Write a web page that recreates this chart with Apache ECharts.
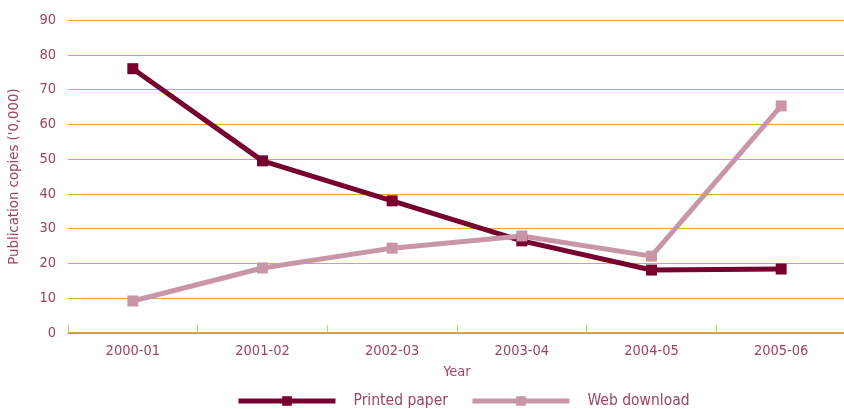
<!DOCTYPE html>
<html>
<head>
<meta charset="utf-8">
<script src="https://cdn.jsdelivr.net/npm/echarts@6/dist/echarts.min.js"></script>
<style>
  html, body { margin: 0; padding: 0; background: #fff; }
  #myCharts { width: 844px; height: 409px; }
</style>
</head>
<body>
<div id="myCharts"></div>
<script>
// data
const years = ["2000-01", "2001-02", "2002-03", "2003-04", "2004-05", "2005-06"];
const printedPaper = [76, 49.5, 38, 26.5, 18.1, 18.4];
const webDownload = [9.2, 18.7, 24.4, 27.9, 22.1, 65.3];

const textColor = "#9b4468";
const fontFamily = "'DejaVu Sans Condensed', 'DejaVu Sans', sans-serif";

const myCharts = echarts.init(document.getElementById("myCharts"));
const option = {
  animation: false,
  textStyle: { fontFamily: fontFamily },
  grid: {
    left: 68,
    right: -2,
    top: 20,
    bottom: 76,
    outerBoundsMode: "none",
  },
  legend: {
    top: 393,
    left: 236,
    padding: 0,
    itemWidth: 97,
    itemHeight: 12,
    itemGap: 22,
    lineStyle: { width: 5 },
    textStyle: {
      color: textColor,
      fontSize: 15.5,
      fontFamily: fontFamily,
      padding: [0, 0, 0, 13],
    },
    data: ["Printed paper", "Web download"],
  },
  xAxis: {
    type: "category",
    data: years,
    name: "Year",
    nameLocation: "middle",
    nameGap: 32,
    nameTextStyle: { color: textColor, fontSize: 14.5 },
    axisLine: { lineStyle: { color: "#c8901f", width: 1.5 } },
    axisTick: {
      show: true,
      inside: true,
      length: 8,
      lineStyle: { color: "#e3bf72" },
    },
    axisLabel: { color: textColor, fontSize: 14.5, margin: 11 },
  },
  yAxis: {
    type: "value",
    min: 0,
    max: 90,
    interval: 10,
    name: "Publication copies ('0,000)",
    nameLocation: "middle",
    nameGap: 46,
    nameRotate: 90,
    nameTextStyle: { color: textColor, fontSize: 14.8 },
    axisLine: { show: false },
    axisTick: { show: false },
    axisLabel: { color: textColor, fontSize: 14.5, margin: 12 },
    splitLine: { lineStyle: { color: "#dfa93a", width: 1.2 } },
  },
  series: [
    {
      name: "Printed paper",
      type: "line",
      data: printedPaper,
      symbol: "rect",
      symbolSize: 11,
      lineStyle: { color: "#76002e", width: 5 },
      itemStyle: { color: "#76002e" },
    },
    {
      name: "Web download",
      type: "line",
      data: webDownload,
      symbol: "rect",
      symbolSize: 11,
      lineStyle: { color: "#c996a8", width: 5 },
      itemStyle: { color: "#c996a8" },
    },
  ],
};
myCharts.setOption(option);
</script>
</body>
</html>
